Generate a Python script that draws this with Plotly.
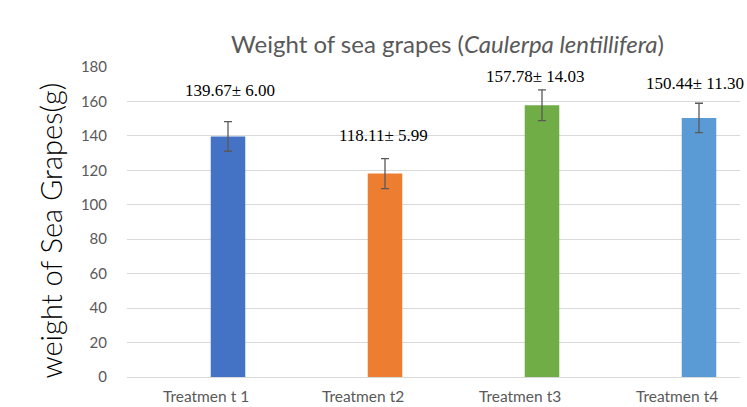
import plotly.graph_objects as go

categories = ["Treatmen t 1", "Treatmen t2", "Treatmen t3", "Treatmen t4"]
means = [139.67, 118.11, 157.78, 150.44]
sds = [6.00, 5.99, 14.03, 11.30]
err_drawn = [8.6, 8.7, 8.9, 8.5]
colors = ["#4472C4", "#ED7D31", "#70AD47", "#5B9BD5"]
yticks = [0, 20, 40, 60, 80, 100, 120, 140, 160, 180]

W, H = 747, 407
L, R, T, B = 127, 7, 67, 30
pw, ph = W - L - R, H - T - B

fig = go.Figure()
fig.add_trace(go.Bar(
    x=list(range(len(categories))), y=means,
    marker=dict(color=colors, line=dict(width=0)),
    width=0.22,
    error_y=dict(type="data", array=err_drawn, color="#595959", thickness=1.3, width=4),
    hoverinfo="skip",
))

label_shift = [31, 23, 13, 20]
label_xshift = [2, -2, -7, -4]
for i, (m, s, e) in enumerate(zip(means, sds, err_drawn)):
    fig.add_annotation(
        x=i, y=m + e, xref="x", yref="y",
        text=f"{m:.2f}\u00b1 {s:.2f}", showarrow=False,
        yshift=label_shift[i], xshift=label_xshift[i],
        font=dict(family="Liberation Serif", size=17, color="#000000"),
    )

# category labels (drawn offset left of the bars, as in the reference)
for i, c in enumerate(categories):
    fig.add_annotation(
        x=i, y=(H - B - 396) / ph, xref="x", yref="paper",
        text=c, showarrow=False, xshift=-22, yanchor="middle",
        font=dict(family="Lato", size=15.5, color="#595959"),
    )

fig.add_annotation(
    x=(447 - L) / pw, y=(H - B - 27) / ph, xref="paper", yref="paper",
    text="Weight of sea grapes (<i>Caulerpa lentillifera</i>)", showarrow=False,
    font=dict(family="Lato", size=24, color="#595959"),
)
fig.add_annotation(
    x=(30 - L) / pw, y=(H - B - 231) / ph, xref="paper", yref="paper",
    text="weight of Sea Grapes(g)", showarrow=False, textangle=-90,
    font=dict(family="Lato", size=29, color="#000000", weight=300),
)

fig.update_layout(
    width=W, height=H, margin=dict(l=L, r=R, t=T, b=B, autoexpand=False),
    paper_bgcolor="white", plot_bgcolor="white", showlegend=False,
    xaxis=dict(
        tickmode="array", tickvals=list(range(len(categories))),
        showticklabels=False,
        range=[(L - 228) / 157, (L + pw - 228) / 157],
        showgrid=False, zeroline=False, showline=False,
    ),
    yaxis=dict(
        range=[0, 180], tickvals=yticks, showgrid=True, gridcolor="#d9d9d9", gridwidth=1,
        zeroline=True, zerolinecolor="#d9d9d9", zerolinewidth=1, showline=False,
        ticks="outside", ticklen=0, ticklabelstandoff=16,
        tickfont=dict(family="Lato", size=15, color="#595959"),
    ),
)

fig.write_html(
    "out.html",
    config={"displayModeBar": False},
    post_script="document.body.style.margin='0';document.body.style.overflow='hidden';",
)
